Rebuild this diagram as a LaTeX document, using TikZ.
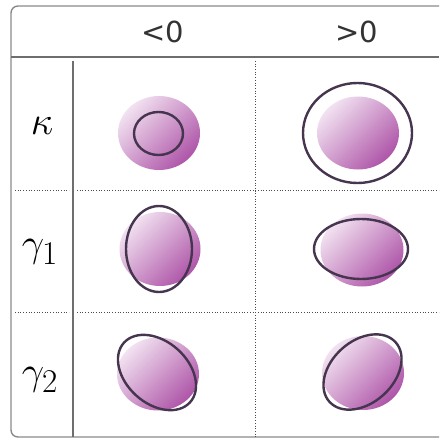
\documentclass[tikz,border=0pt]{standalone}
\usepackage{graphicx}
\usepackage{fontspec}
\setmainfont{DejaVu Sans}
\usepackage{tikz}
\usetikzlibrary{shapes.geometric}
\definecolor{frameGray}{HTML}{8A8A8A}
\definecolor{ruleGray}{HTML}{6E6E6E}
\definecolor{textGray}{HTML}{333333}
\definecolor{blobLight}{HTML}{F2E2F1}
\definecolor{blobDark}{HTML}{AE55A8}
\definecolor{ringDark}{HTML}{45354F}
\newcommand{\rowsym}[1]{\scalebox{1.6}{\Huge$#1$}}

\begin{document}
\begin{tikzpicture}[x=1pt,y=-1pt,
    head/.style={text=textGray,font=\fontsize{29}{32}\selectfont,inner sep=0pt},
    rowlab/.style={text=black,inner sep=0pt},
    blob/.style={ellipse,inner sep=0pt,outer sep=0pt,
                 top color=blobLight,bottom color=blobDark,shading angle=45},
    ring/.style={ellipse,draw=ringDark,line width=2.4pt,inner sep=0pt,outer sep=0pt},
    dotrule/.style={black!70,line width=0.7pt,dotted}
  ]
    \useasboundingbox (0,0) rectangle (439,441);
    \clip (0,0) rectangle (439,441);
    % frame and grid
    \draw[frameGray,line width=1.4pt,rounded corners=7pt] (11,6) rectangle (460,437);
    \draw[ruleGray,line width=1.8pt] (11,57) -- (439,57);
    \draw[ruleGray,line width=1.2pt] (73,61) -- (73,437);
    \draw[dotrule] (255,61) -- (255,437);
    \foreach \yy in {190,312} {
      \draw[dotrule] (15,\yy) -- (69,\yy);
      \draw[dotrule] (77,\yy) -- (439,\yy);
    }
    % column and row headers
    \node[head] (neg) at (163,32) {<0};
    \node[head] (pos) at (357,32) {>0};
    \node[rowlab] (kap) at (42,126) {\rowsym{\kappa}};
    \node[rowlab] (gam1) at (40,252) {\rowsym{\gamma_{1}}};
    \node[rowlab] (gam2) at (40,380) {\rowsym{\gamma_{2}}};
    % shaded cells
    \node[blob,minimum width=82pt,minimum height=74pt] (b11) at (159,133) {};
    \node[blob,minimum width=82pt,minimum height=73pt] (b12) at (358,133) {};
    \node[blob,minimum width=81pt,minimum height=74pt] (b21) at (160,249) {};
    \node[blob,minimum width=83pt,minimum height=73pt] (b22) at (362,250) {};
    \node[blob,minimum width=82pt,minimum height=73pt] (b31) at (158,374) {};
    \node[blob,minimum width=82pt,minimum height=74pt] (b32) at (363,373) {};
    % outlines on top
    \node[ring,minimum width=49pt,minimum height=43pt] (r11) at (158.5,133.5) {};
    \node[ring,minimum width=109pt,minimum height=100pt] (r12) at (357.5,133) {};
    \node[ring,minimum width=66pt,minimum height=86pt] (r21) at (159,249) {};
    \node[ring,minimum width=94pt,minimum height=60pt] (r22) at (361,249) {};
    \node[ring,minimum width=89pt,minimum height=62pt,rotate=-42] (r31) at (157,372.5) {};
    \node[ring,minimum width=89pt,minimum height=62pt,rotate=42] (r32) at (362.5,372) {};
  \end{tikzpicture}
\end{document}
